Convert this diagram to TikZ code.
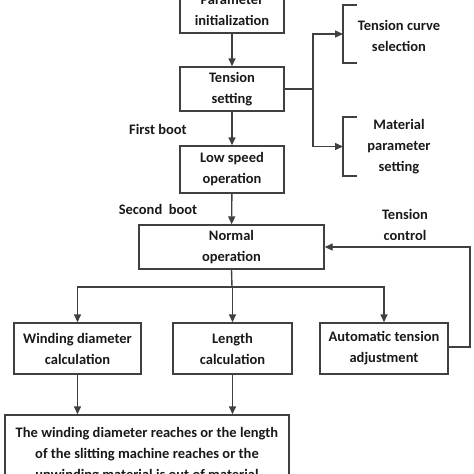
\documentclass[tikz,border=0pt]{standalone}
\usepackage{fontspec}
\setmainfont{Carlito}
\usepackage{tikz}
\usetikzlibrary{arrows.meta,calc}

\begin{document}
\begin{tikzpicture}[x=1pt,y=-1pt,>={Triangle[length=8pt,width=7pt]},
  line width=1.4pt,
  flowbox/.style={draw=black!75,rectangle,align=center,inner sep=0pt,
    font=\fontsize{14.5}{21}\selectfont\bfseries,text=black!90},
  lbl/.style={align=center,inner sep=0pt,
    font=\fontsize{14.5}{21}\selectfont\bfseries,text=black!90},
  flow/.style={draw=black!75,->}]
\useasboundingbox (0,0) rectangle (474,474);

% Main column
\node[flowbox,minimum width=104pt,minimum height=46pt] (init) at (232,10) {Parameter\\initialization};
\node[flowbox,minimum width=104pt,minimum height=44pt] (tens) at (232,89) {Tension\\setting};
\node[flowbox,minimum width=104pt,minimum height=47pt] (low) at (232,169.5) {Low speed\\operation};
\node[flowbox,minimum width=185pt,minimum height=44pt] (norm) at (231.5,247) {Normal\\operation};

\draw[flow] (init) -- (tens);
\draw[flow] (tens) -- (low);
\draw[flow] (low) -- (norm);
\node[lbl] (first) at (158,129) {First boot};
\node[lbl] (second) at (158,209) {Second~ boot};

% Settings brackets
\coordinate (brA) at (343,34);
\coordinate (brB) at (343,146.5);
\draw[draw=black!75] (357,5) -- (343,5) -- (343,63) -- (357,63);
\draw[draw=black!75] (357,117) -- (343,117) -- (343,176) -- (357,176);
\node[lbl] (curve) at (399,35.5) {Tension curve\\selection};
\node[lbl] (mat) at (399,146.5) {Material\\parameter\\setting};
\coordinate (split) at (313,89);
\draw[draw=black!75] (tens.east) -- (split);
\draw[flow] (split) |- (brA);
\draw[flow] (split) |- (brB);

% Calculation row
\node[flowbox,minimum width=127pt,minimum height=51pt] (wind) at (77.5,348.5) {Winding diameter\\calculation};
\node[flowbox,minimum width=119pt,minimum height=51pt] (len) at (232.5,348.5) {Length\\calculation};
\node[flowbox,minimum width=128pt,minimum height=51pt] (auto) at (384,348.5) {Automatic tension\\adjustment};

\coordinate (fork) at (232,287);
\draw[draw=black!75] (norm.south) -- (fork);
\draw[flow] (fork) -| (wind.north);
\draw[flow] (fork) -- (fork -| len.north) -- (len.north);
\draw[flow] (fork) -| (auto.north);

% Feedback loop
\node[lbl] (ctrl) at (405,225) {Tension\\control};
\coordinate (back) at (470,347);
\draw[flow] (auto.east |- back) -- (back) |- (norm.east);

% End condition
\node[flowbox,minimum width=284pt,minimum height=80pt] (stop) at (147,455)
  {The winding diameter reaches or the length\\of the slitting machine reaches or the\\unwinding material is out of material};
\draw[flow] (wind) -- (wind |- stop.north);
\draw[flow] (len) -- (len |- stop.north);
\end{tikzpicture}
\end{document}
